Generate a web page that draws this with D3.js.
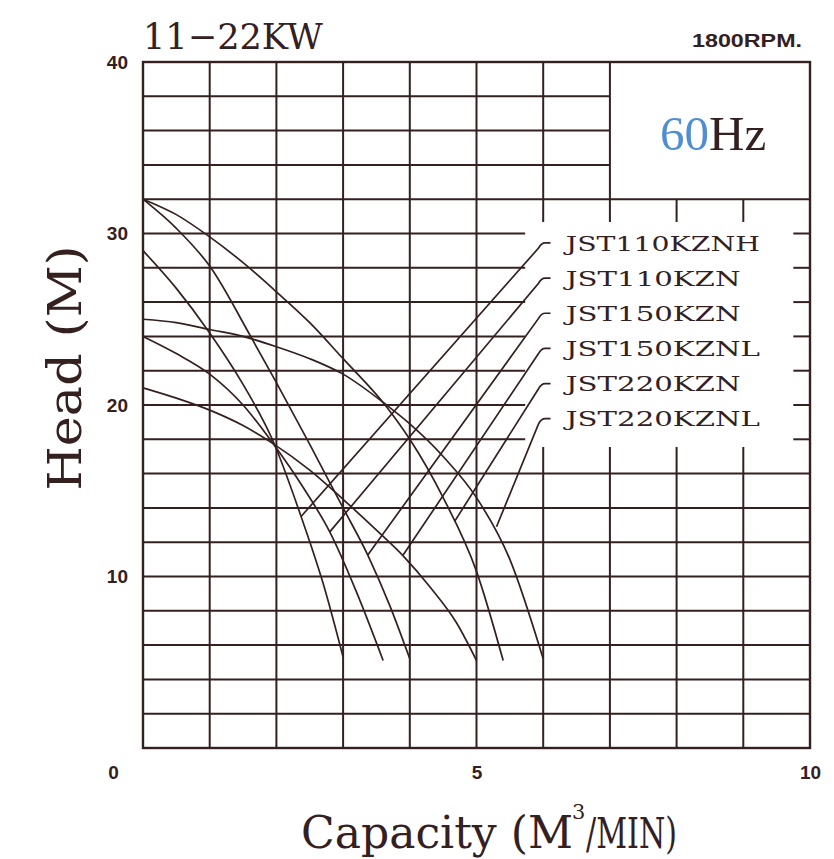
<!DOCTYPE html>
<html>
<head>
<meta charset="utf-8">
<script src="https://cdnjs.cloudflare.com/ajax/libs/d3/7.8.5/d3.min.js"></script>
<style>
body { margin: 0; background: #fff; }
.serif { font-family: "DejaVu Serif", serif; fill: #33201f; }
.tick text { font-family: "Liberation Sans", "DejaVu Sans", sans-serif; font-weight: bold; font-size: 19px; fill: #33201f; }
</style>
</head>
<body>
<div id="chart"></div>
<script>
// Chart data (capacity M3/MIN, head M)
var xTicks = [0, 5, 10];
var yTicks = [10, 20, 30, 40];
var models = ["JST110KZNH", "JST110KZN", "JST150KZN", "JST150KZNL", "JST220KZN", "JST220KZNL"];

var curve110H = [[0, 29], [0.5, 26.8], [1, 24.2], [1.5, 21.2], [1.95, 17.9], [2.37, 13.5], [2.7, 9.6], [3.0, 5.3]];
var curve110 = [[0, 24], [0.5, 23], [1, 21.8], [1.5, 20], [1.95, 17.75], [2.4, 15.2], [2.8, 12.6], [3.2, 9.1], [3.6, 5.1]];
var curve150 = [[0, 32], [0.5, 30.3], [1, 28.1], [1.6, 24.1], [2, 21.3], [2.5, 17.7], [3, 14], [3.37, 11.25], [3.7, 8.3], [4.0, 5.2]];
var curve150L = [[0, 21], [0.5, 20.4], [1, 19.7], [1.5, 18.8], [1.95, 17.75], [2.5, 16.2], [3, 14.5], [3.5, 12.7], [3.9, 11.2], [4.3, 9.4], [4.7, 7.3], [5, 5.1]];
var curve220 = [[0, 32], [0.5, 31.1], [1, 29.8], [1.5, 28.3], [2, 26.6], [2.5, 24.8], [3, 22.7], [3.65, 19.9], [4, 18.0], [4.5, 14.6], [5, 10.3], [5.4, 5.1]];
var curve220L = [[0, 25], [0.5, 24.8], [1, 24.4], [1.5, 24], [2, 23.4], [2.5, 22.7], [3, 21.8], [3.65, 20.0], [4, 18.9], [4.5, 17.0], [5, 14.6], [5.5, 11], [6, 5.2]];
var curves = [curve110H, curve110, curve150, curve150L, curve220, curve220L];

// where each legend leader touches its curve, and the legend row heights
var leaderQ = [2.37, 2.8, 3.37, 3.9, 4.67, 5.3];
var leaderH = [13.5, 12.6, 11.25, 11.25, 13.2, 12.9];
var labelH = [29.45, 27.4, 25.35, 23.3, 21.25, 19.2];

//SVG size and margins
var svgWidth = 834;
var svgHeight = 859;
var margin = { top: 62, right: 24, bottom: 111, left: 143 };
var chartWidth = svgWidth - margin.left - margin.right;
var chartHeight = svgHeight - margin.top - margin.bottom;
var ink = "#33201f";

var svg = d3.select("#chart")
    .append("svg")
    .attr("width", svgWidth)
    .attr("height", svgHeight);

var chartGroup = svg.append("g")
    .attr("transform", `translate(${margin.left}, ${margin.top})`);

var xScale = d3.scaleLinear().domain([0, 10]).range([0, chartWidth]);
var yScale = d3.scaleLinear().domain([0, 40]).range([chartHeight, 0]);

// grid: horizontal lines every 2 m, broken around the 60Hz box and the legend
var hSegs = [];
for (var h = 2; h <= 38; h += 2) {
    if (h >= 34) hSegs.push([h, 0, 7]);
    else if (h >= 18 && h <= 30) { hSegs.push([h, 0, 5.73]); hSegs.push([h, 9.75, 10]); }
    else hSegs.push([h, 0, 10]);
}
var vSegs = [];
for (var q = 1; q <= 9; q++) {
    if (q <= 5) vSegs.push([q, 0, 40]);
    else {
        vSegs.push([q, 0, 17.55]);
        vSegs.push([q, 30.67, q <= 7 ? 40 : 32]);
    }
}

var grid = chartGroup.append("g");
grid.selectAll(".hl").data(hSegs).enter().append("line")
    .attr("x1", d => xScale(d[1])).attr("x2", d => xScale(d[2]))
    .attr("y1", d => yScale(d[0])).attr("y2", d => yScale(d[0]))
    .attr("stroke", ink).attr("stroke-width", 2);
grid.selectAll(".vl").data(vSegs).enter().append("line")
    .attr("x1", d => xScale(d[0])).attr("x2", d => xScale(d[0]))
    .attr("y1", d => yScale(d[1])).attr("y2", d => yScale(d[2]))
    .attr("stroke", ink).attr("stroke-width", 2);
grid.append("rect")
    .attr("width", chartWidth).attr("height", chartHeight)
    .attr("fill", "none").attr("stroke", ink).attr("stroke-width", 2.4);

// axes (labels only)
var leftAxis = d3.axisLeft(yScale).tickValues(yTicks).tickSize(0).tickPadding(15);
var bottomAxis = d3.axisBottom(xScale).tickValues(xTicks).tickSize(0).tickPadding(18);
chartGroup.append("g").call(leftAxis).call(g => g.select(".domain").remove());
chartGroup.append("g")
    .attr("transform", `translate(0, ${chartHeight})`)
    .call(bottomAxis)
    .call(g => g.select(".domain").remove())
    .call(g => g.selectAll(".tick text").filter(d => d === 0).attr("dx", -30));

// pump curves
var line = d3.line()
    .x(d => xScale(d[0]))
    .y(d => yScale(d[1]))
    .curve(d3.curveMonotoneX);

chartGroup.selectAll(".curve").data(curves).enter().append("path")
    .attr("d", line)
    .attr("fill", "none")
    .attr("stroke", ink)
    .attr("stroke-width", 1.7);

// legend leaders and names
models.forEach(function(name, i) {
    var lh = labelH[i];
    var p = `M${xScale(leaderQ[i])},${yScale(leaderH[i])}` +
        `L${xScale(5.93)},${yScale(lh - 0.3)}` +
        `Q${xScale(5.97)},${yScale(lh)} ${xScale(6.03)},${yScale(lh)}` +
        `L${xScale(6.11)},${yScale(lh)}`;
    chartGroup.append("path")
        .attr("d", p).attr("fill", "none")
        .attr("stroke", ink).attr("stroke-width", 1.7);
    chartGroup.append("text")
        .attr("class", "serif")
        .attr("x", xScale(6.34))
        .attr("y", yScale(lh))
        .attr("dy", "0.37em")
        .attr("font-size", 21)
        .attr("textLength", name.length * 19.4)
        .attr("lengthAdjust", "spacingAndGlyphs")
        .text(name);
});

// titles
svg.append("text").attr("class", "serif")
    .attr("x", 143).attr("y", 49)
    .attr("font-size", 36)
    .attr("textLength", 180).attr("lengthAdjust", "spacingAndGlyphs")
    .text("11\u221222KW");

svg.append("text")
    .attr("x", 802).attr("y", 47)
    .attr("text-anchor", "end")
    .attr("font-family", "'Liberation Sans', 'DejaVu Sans', sans-serif")
    .attr("font-weight", "bold").attr("font-size", 18)
    .attr("fill", ink)
    .attr("textLength", 110).attr("lengthAdjust", "spacingAndGlyphs")
    .text("1800RPM.");

var hz = svg.append("text")
    .attr("x", 660).attr("y", 150)
    .attr("font-family", "'Liberation Serif', serif")
    .attr("font-size", 49);
hz.append("tspan").attr("fill", "#4f8fcf").text("60");
hz.append("tspan").attr("fill", ink).text("Hz");

svg.append("text").attr("class", "serif")
    .attr("transform", "translate(81, 368) rotate(-90)")
    .attr("text-anchor", "middle")
    .attr("font-size", 47)
    .attr("textLength", 245)
    .attr("lengthAdjust", "spacingAndGlyphs")
    .text("Head (M)");

svg.append("text").attr("class", "serif")
    .attr("x", 301).attr("y", 848)
    .attr("font-size", 44)
    .attr("textLength", 272).attr("lengthAdjust", "spacingAndGlyphs")
    .text("Capacity (M");
svg.append("text").attr("class", "serif")
    .attr("x", 572).attr("y", 819)
    .attr("font-size", 21)
    .text("3");
svg.append("text").attr("class", "serif")
    .attr("x", 586).attr("y", 848)
    .attr("font-size", 42)
    .attr("textLength", 91).attr("lengthAdjust", "spacingAndGlyphs")
    .text("/MIN)");
</script>
</body>
</html>
